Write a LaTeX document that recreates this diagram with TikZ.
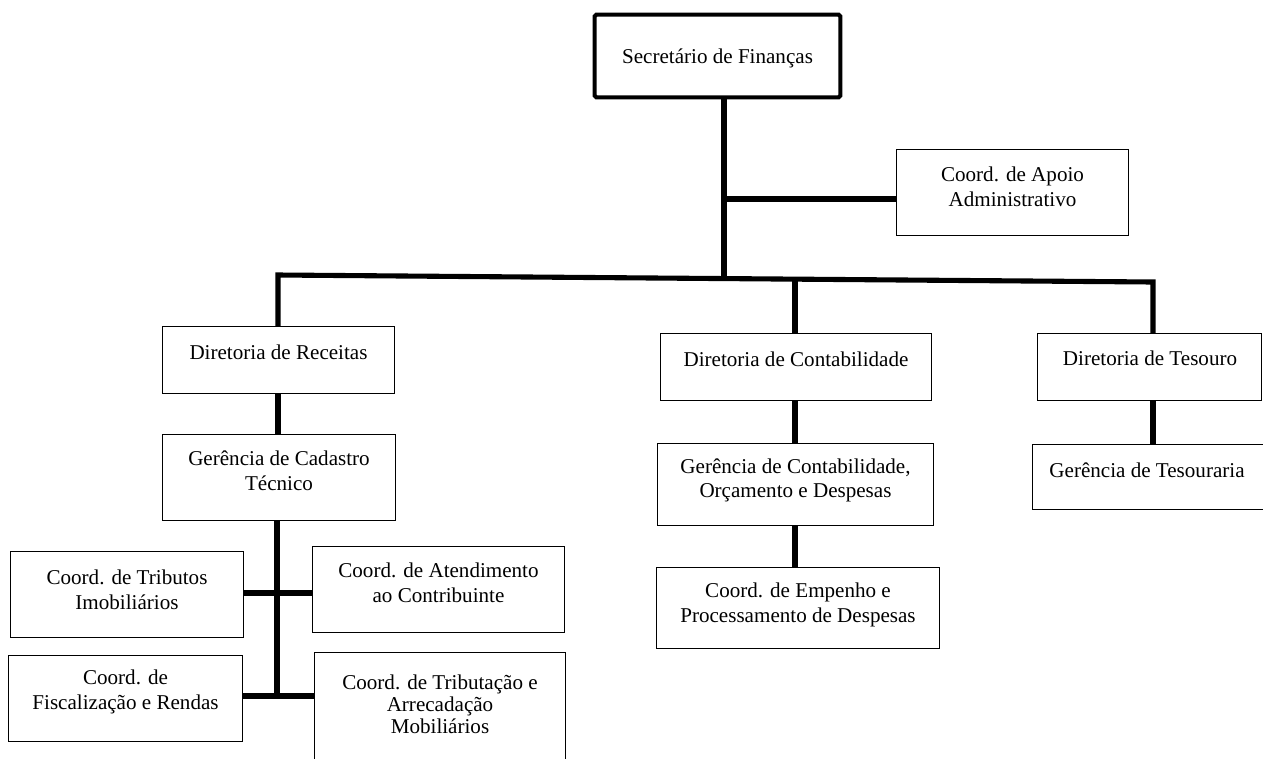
\documentclass[tikz,border=0pt]{standalone}
\usepackage{fontspec}
\setmainfont{Liberation Serif}
\usetikzlibrary{fit}
\begin{document}
\begin{tikzpicture}[x=0.02cm, y=-0.02cm,
  box/.style={draw, line width=0.7pt, inner sep=0pt, fill=white},
  bossbox/.style={draw, line width=2.3pt, inner sep=0pt, rounded corners=1pt},
  txt/.style={align=center, inner sep=0pt, font=\fontsize{12}{14}\selectfont},
  link/.style={line width=2.9pt}]
\useasboundingbox (0,0) rectangle (1263,758);
\clip (0,0) rectangle (1263,758);

% junction points on the connector lines
\coordinate (bL) at (278,275);
\coordinate (bR) at (1153,282);
\coordinate (jT) at (724,278.6);
\coordinate (jC) at (795,279.1);
\coordinate (jA) at (724,199);
\coordinate (sp1) at (277,593);
\coordinate (sp2) at (277,696);

% connectors (drawn first, boxes on top)
\node[fit={(163,327)(394,393)}, inner sep=0pt] (recv) {};
\node[fit={(661,334)(931,400)}, inner sep=0pt] (cont) {};
\node[fit={(1038,334)(1261,400)}, inner sep=0pt] (teso) {};
\node[fit={(595,15)(840,97)}, inner sep=0pt] (boss) {};
\node[fit={(897,150)(1128,235)}, inner sep=0pt] (apoio) {};
\node[fit={(163,435)(395,520)}, inner sep=0pt] (cad) {};
\node[fit={(11,552)(243,637)}, inner sep=0pt] (trim) {};
\node[fit={(313,547)(564,632)}, inner sep=0pt] (aten) {};
\node[fit={(9,656)(242,741)}, inner sep=0pt] (fisc) {};
\node[fit={(315,653)(565,775)}, inner sep=0pt] (trmob) {};
\node[fit={(658,444)(933,525)}, inner sep=0pt] (gcont) {};
\node[fit={(657,568)(939,648)}, inner sep=0pt] (emp) {};
\node[fit={(1033,445)(1275,509)}, inner sep=0pt] (gteso) {};

\draw[link] (bL |- recv.north) -- (bL) -- (bR) -- (bR |- teso.north);
\draw[link] (jT |- boss.south) -- (jT);
\draw[link] (jA) -- (apoio.west |- jA);
\draw[link] (jC) -- (jC |- cont.north);
\draw[link] (bL |- recv.south) -- (bL |- cad.north);
\draw[link] (sp1 |- cad.south) -- (sp2);
\draw[link] (trim.east |- sp1) -- (aten.west |- sp1);
\draw[link] (fisc.east |- sp2) -- (trmob.west |- sp2);
\draw[link] (jC |- cont.south) -- (jC |- gcont.north);
\draw[link] (jC |- gcont.south) -- (jC |- emp.north);
\draw[link] (bR |- teso.south) -- (bR |- gteso.north);

% boxes
\draw[bossbox] (boss.north west) rectangle (boss.south east);
\foreach \b in {apoio,recv,cont,teso,cad,trim,aten,fisc,trmob,gcont,emp,gteso}
  \draw[box] (\b.north west) rectangle (\b.south east);

% texts
\node[txt] (tBoss) at (717.5,58) {Secretário de Finanças};
\node[txt] (tApoio) at (1012.5,187) {Coord. de Apoio\\Administrativo};
\node[txt] (tRecv) at (278.5,352) {Diretoria de Receitas};
\node[txt] (tCont) at (796,359) {Diretoria de Contabilidade};
\node[txt] (tTeso) at (1150,358) {Diretoria de Tesouro};
\node[txt] (tCad) at (279,471) {Gerência de Cadastro\\Técnico};
\node[txt] (tTrim) at (127,590) {Coord. de Tributos\\Imobiliários};
\node[txt] (tAten) at (438.5,583) {Coord. de Atendimento\\ao Contribuinte};
\node[txt] (tFisc) at (125.5,692) {Coord. de\\Fiscalização e Rendas};
\node[txt, font=\fontsize{12}{12.6}\selectfont] (tTrmob) at (440,704) {Coord. de Tributação e\\Arrecadação\\Mobiliários};
\node[txt] (tGcont) at (795.5,480.5) {Gerência de Contabilidade,\\Orçamento e Despesas};
\node[txt] (tEmp) at (798,605) {Coord. de Empenho e\\Processamento de Despesas};
\node[txt] (tGteso) at (1147,470) {Gerência de Tesouraria};
\end{tikzpicture}
\end{document}
